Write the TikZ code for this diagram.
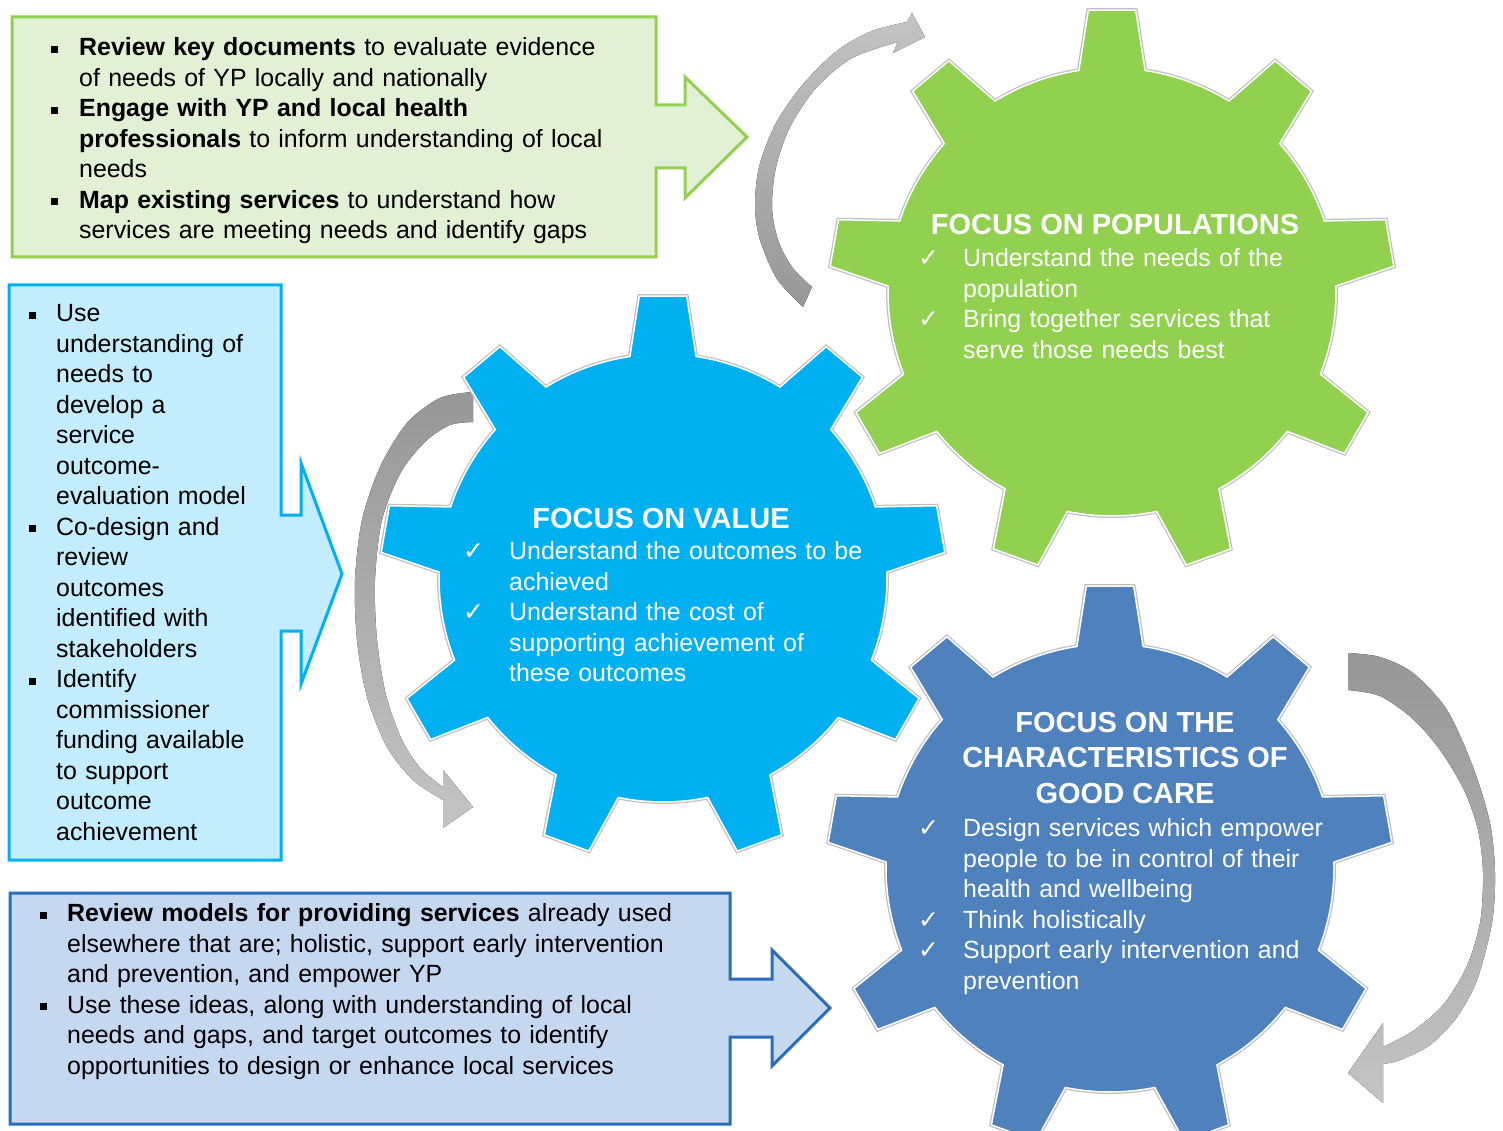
\documentclass[tikz,border=0pt]{standalone}
\usepackage{fontspec}
\setmainfont{Liberation Sans}
\newfontfamily\tickfont{DejaVu Sans}
\definecolor{popgreen}{HTML}{92D050}
\definecolor{valblue}{HTML}{00B0F0}
\definecolor{careblue}{HTML}{4F81BD}
\definecolor{evidfill}{HTML}{E2F0D5}
\definecolor{outcfill}{HTML}{C3ECFD}
\definecolor{modfill}{HTML}{C6D8EF}
\definecolor{modline}{HTML}{2A6EBB}
\definecolor{arrowdark}{HTML}{979797}
\definecolor{arrowlight}{HTML}{C4C4C4}
\newcommand{\sqitem}[1][27pt]{\par\hangindent=#1\hangafter=1\noindent\makebox[#1][l]{\rule{0pt}{19pt}\raisebox{3pt}{\rule{7pt}{7pt}}}}
\newcommand{\tickitem}[1][46pt]{\par\hangindent=#1\hangafter=1\noindent\makebox[#1][l]{\rule{0pt}{19pt}\hspace{1pt}{\tickfont\fontsize{25}{25}\selectfont ✓}}}
\begin{document}
\begin{tikzpicture}[x=1pt,y=-1pt,
  boxtext/.style={anchor=north west,inner sep=0pt,align=left,font=\fontsize{24.9}{30.5}\selectfont},
  geartext/.style={boxtext,text=white},
  gearttl/.style={inner sep=0pt,text=white,align=center,font=\fontsize{29}{35.5}\selectfont\bfseries},
  cogwheel/.pic={\path[fill=#1,draw=white,line width=1.5pt,preaction={draw=black!25,line width=4pt}]
    (261.5:224) \foreach \a in {270,310,...,590}{ -- (\a-4.8:283) -- (\a+4.8:283) -- (\a+8.5:224)
    arc[start angle=\a+8.5,end angle=\a+31.5,radius=224]} -- cycle;},
  cyclearrow/.style={draw=none}]
  \useasboundingbox (0,0) rectangle (1503,1131);

  % callout boxes
  \filldraw[fill=evidfill,draw=popgreen,line width=3pt] (12,17) -- (656,17) -- (656,105) -- (685,105) -- (685,77) -- (747,137) -- (685,198) -- (685,168) -- (656,168) -- (656,257) -- (12,257) -- cycle;
  \filldraw[fill=outcfill,draw=valblue,line width=3pt] (9,285) -- (281,285) -- (281,515) -- (301,515) -- (301,463) -- (342,574) -- (301,684) -- (301,631) -- (281,631) -- (281,860) -- (9,860) -- cycle;
  \filldraw[fill=modfill,draw=modline,line width=3pt] (10,893) -- (730,893) -- (730,979) -- (772,979) -- (772,950) -- (830,1008) -- (772,1066) -- (772,1037) -- (730,1037) -- (730,1124) -- (10,1124) -- cycle;

  % curved arrows
  \fill[cyclearrow,top color=arrowlight,bottom color=arrowdark] plot[smooth] coordinates {(803,307) (777,279) (760,240) (755,207) (759,167) (776,123) (804,83) (838,50) (872,31) (907,22)}
    -- (912,13) -- (925,37) -- (893,53) -- (898,42)
    -- plot[smooth] coordinates {(898,42) (852,58) (816,88) (790,127) (776,167) (772,207) (778,240) (792,267) (812,287)} -- cycle;
  \fill[cyclearrow,top color=arrowdark,bottom color=arrowlight] plot[smooth] coordinates {(473,392) (440,398) (407,423) (380,467) (362,520) (355,580) (357,640) (367,697) (387,747) (413,780) (443,800)}
    -- (443,828) -- (473,807) -- (443,770) -- (443,787)
    -- plot[smooth] coordinates {(443,787) (421,769) (402,740) (386,695) (377,640) (375,580) (382,520) (401,472) (426,441) (450,425) (473,422)} -- cycle;
  \fill[cyclearrow,top color=arrowdark,bottom color=arrowlight] plot[smooth] coordinates {(1348,653) (1380,657) (1413,673) (1447,710) (1473,767) (1490,823) (1495,873) (1492,923) (1477,980) (1457,1017) (1430,1045) (1400,1060) (1383,1064)}
    -- (1383,1103) -- (1348,1073) -- (1383,1023) -- (1383,1047)
    -- plot[smooth] coordinates {(1383,1047) (1413,1031) (1443,1005) (1466,968) (1480,923) (1483,873) (1478,830) (1464,790) (1440,750) (1413,719) (1380,696) (1348,690)} -- cycle;

  % gears
  \pic at (1112,292) {cogwheel=popgreen};
  \pic at (663,578) {cogwheel=valblue};
  \pic at (1110,868) {cogwheel=careblue};

  % box texts
  \node[boxtext,text width=600pt] (evidence) at (51,25) {%
    \sqitem[28pt]\textbf{Review key documents} to evaluate evidence\newline of needs of YP locally and nationally
    \sqitem[28pt]\textbf{Engage with YP and local health\newline professionals} to inform understanding of local\newline needs
    \sqitem[28pt]\textbf{Map existing services} to understand how\newline services are meeting needs and identify gaps\par};
  \node[boxtext,text width=240pt] (outcomes) at (29,291) {%
    \sqitem Use\newline understanding of\newline needs to\newline develop a\newline service\newline outcome-\newline evaluation model
    \sqitem Co-design and\newline review\newline outcomes\newline identified with\newline stakeholders
    \sqitem Identify\newline commissioner\newline funding available\newline to support\newline outcome\newline achievement\par};
  \node[boxtext,text width=680pt] (models) at (40,891) {%
    \sqitem\textbf{Review models for providing services} already used\newline elsewhere that are; holistic, support early intervention\newline and prevention, and empower YP
    \sqitem Use these ideas, along with understanding of local\newline needs and gaps, and target outcomes to identify\newline opportunities to design or enhance local services\par};

  % gear texts
  \node[gearttl,anchor=base] (popttl) at (1115,234.5) {FOCUS ON POPULATIONS};
  \node[geartext,text width=420pt] (popitems) at (917,236) {%
    \tickitem Understand the needs of the\newline population
    \tickitem Bring together services that\newline serve those needs best\par};
  \node[gearttl,anchor=base] (valttl) at (661,528.5) {FOCUS ON VALUE};
  \node[geartext,text width=430pt] (valitems) at (462,529) {%
    \tickitem[47pt]Understand the outcomes to be\newline achieved
    \tickitem[47pt]Understand the cost of\newline supporting achievement of\newline these outcomes\par};
  \node[gearttl,anchor=north] (carettl) at (1125,712) {FOCUS ON THE\\CHARACTERISTICS OF\\GOOD CARE};
  \node[geartext,text width=430pt] (careitems) at (917,806) {%
    \tickitem Design services which empower\newline people to be in control of their\newline health and wellbeing
    \tickitem Think holistically
    \tickitem Support early intervention and\newline prevention\par};
\end{tikzpicture}
\end{document}
